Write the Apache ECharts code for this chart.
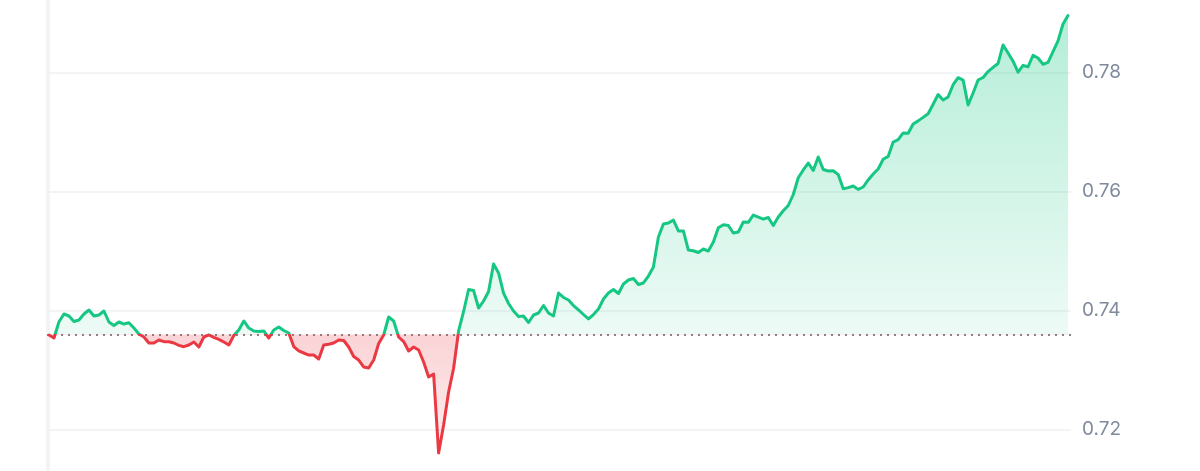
<!DOCTYPE html>
<html><head><meta charset="utf-8">
<script src="https://cdn.jsdelivr.net/npm/echarts@6/dist/echarts.min.js"></script>
<style>html,body{margin:0;padding:0;background:#fff}#c{width:1200px;height:471px}</style>
</head><body><div id="c"></div>
<script>
// Reference (opening) price drawn as the dotted baseline
const BASELINE = 0.736;
// Price series, evenly spaced in time
const prices = [
0.73592,0.73541,0.73815,0.73945,0.73911,0.73818,0.73844,0.73945,0.74012,0.73911,
0.73928,0.73995,0.73810,0.73751,0.73810,0.73776,0.73798,0.73709,0.73608,0.73558,
0.73457,0.73457,0.73508,0.73479,0.73479,0.73457,0.73418,0.73395,0.73424,0.73474,
0.73390,0.73558,0.73592,0.73553,0.73519,0.73474,0.73424,0.73583,0.73676,0.73827,
0.73709,0.73659,0.73650,0.73659,0.73541,0.73676,0.73726,0.73667,0.73625,0.73398,
0.73323,0.73289,0.73255,0.73255,0.73188,0.73424,0.73435,0.73457,0.73508,0.73499,
0.73390,0.73230,0.73171,0.73054,0.73037,0.73171,0.73449,0.73592,0.73894,0.73827,
0.73558,0.73482,0.73323,0.73390,0.73339,0.73138,0.72886,0.72936,0.71608,0.72079,
0.72634,0.73032,0.73659,0.73987,0.74356,0.74340,0.74045,0.74163,0.74323,0.74785,
0.74634,0.74297,0.74121,0.73995,0.73903,0.73911,0.73802,0.73928,0.73961,0.74087,
0.73961,0.73911,0.74297,0.74222,0.74180,0.74087,0.74012,0.73936,0.73861,0.73936,
0.74029,0.74197,0.74297,0.74356,0.74289,0.74449,0.74516,0.74541,0.74440,0.74466,
0.74583,0.74734,0.75239,0.75457,0.75474,0.75524,0.75340,0.75340,0.75020,0.75008,
0.74978,0.75037,0.75003,0.75155,0.75393,0.75444,0.75432,0.75306,0.75323,0.75491,
0.75486,0.75608,0.75571,0.75538,0.75566,0.75432,0.75575,0.75679,0.75768,0.75953,
0.76235,0.76365,0.76482,0.76356,0.76583,0.76373,0.76348,0.76353,0.76287,0.76049,
0.76069,0.76096,0.76039,0.76079,0.76197,0.76298,0.76382,0.76546,0.76593,0.76835,
0.76874,0.76987,0.76983,0.77138,0.77190,0.77249,0.77311,0.77469,0.77634,0.77541,
0.77592,0.77798,0.77916,0.77877,0.77457,0.77659,0.77877,0.77919,0.78019,0.78089,
0.78155,0.78466,0.78331,0.78193,0.78009,0.78124,0.78099,0.78293,0.78247,0.78141,
0.78175,0.78353,0.78533,0.78819,0.78961
];
// Y axis scale
const Y_MIN = 0.70, Y_MAX = 0.80, Y_STEP = 0.02;

const GREEN = '#16c784', RED = '#ea3943';
const points = prices.map((v, i) => [i, v]);

const chart = echarts.init(document.getElementById('c'), null, {renderer: 'canvas'});

function build(fill) {
  const yBase = {type: 'value', min: Y_MIN, max: Y_MAX, interval: Y_STEP};
  return {
    animation: false,
    backgroundColor: '#ffffff',
    grid: {left: 47, right: 129, top: -46.3, bottom: -77.7, containLabel: false, outerBoundsMode: 'none'},
    xAxis: {type: 'value', min: -0.4, max: prices.length - 1 + 0.6, show: false},
    yAxis: [
      Object.assign({}, yBase, {
        position: 'right',
        axisLine: {show: true, lineStyle: {color: '#eef0f3', width: 1.5}},
        axisTick: {show: false},
        splitLine: {show: true, lineStyle: {color: '#eef0f3', width: 1.5}},
        axisLabel: {show: true, margin: 11, color: '#808a9d', fontSize: 19, fontFamily: 'Inter',
          formatter: v => v.toFixed(2)}
      }),
      Object.assign({}, yBase, {
        position: 'left',
        axisLine: {show: true, lineStyle: {color: '#eef0f3', width: 1.5}},
        axisTick: {show: false}, splitLine: {show: false}, axisLabel: {show: false}
      })
    ],
    visualMap: {
      show: false, type: 'piecewise', seriesIndex: 0, dimension: 1,
      pieces: [
        {gt: BASELINE, lte: 2, color: GREEN},
        {gt: 0, lte: BASELINE, color: RED}
      ],
      outOfRange: {color: GREEN}
    },
    series: [{
      type: 'line',
      data: points,
      showSymbol: false,
      smooth: false,
      lineStyle: {width: 3, join: 'round', cap: 'round'},
      areaStyle: fill ? {origin: BASELINE, color: fill, opacity: 1} : {origin: BASELINE, opacity: 0},
      markLine: {
        silent: true, symbol: ['none', 'none'], precision: 6, z: 2,
        label: {show: false},
        lineStyle: {color: '#858585', type: [2, 5], width: 2},
        data: [{yAxis: BASELINE}]
      },
      z: 3
    }]
  };
}

chart.setOption(build(null));
const H = chart.getHeight();
const by = chart.convertToPixel({yAxisIndex: 0}, BASELINE);
const off = Math.min(Math.max(by / H, 0), 1);
const fill = new echarts.graphic.LinearGradient(0, 0, 0, H, [
  {offset: 0, color: 'rgba(22,199,132,0.33)'},
  {offset: off, color: 'rgba(22,199,132,0.08)'},
  {offset: off, color: 'rgba(234,57,67,0.22)'},
  {offset: 1, color: 'rgba(234,57,67,0.06)'}
], true);
chart.setOption(build(fill), true);
</script>
</body></html>
